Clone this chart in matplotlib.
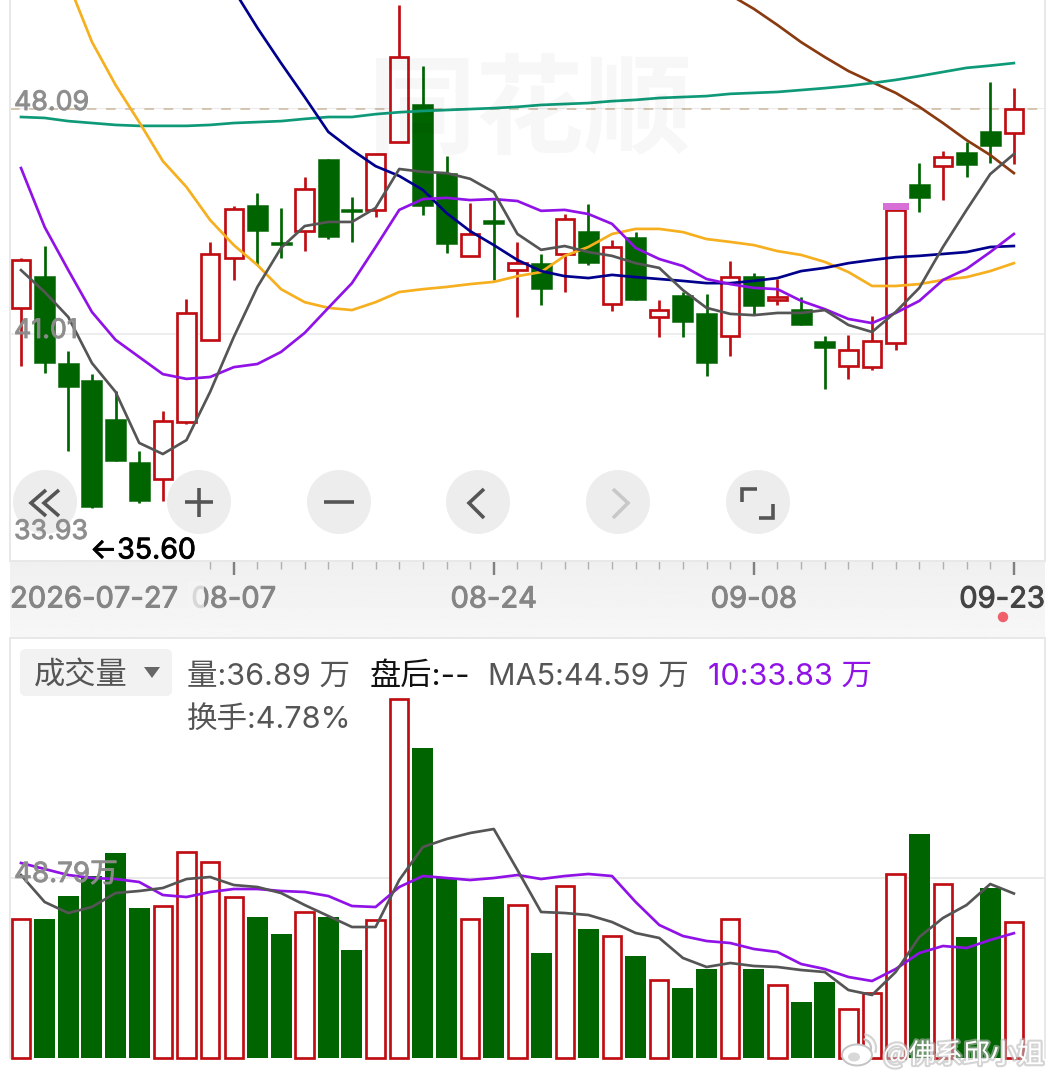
import matplotlib
matplotlib.use("Agg")
import matplotlib.pyplot as plt
import matplotlib.patheffects as pe
from matplotlib.patches import Arc, Circle, FancyBboxPatch, Polygon, Rectangle, Ellipse
from matplotlib.ticker import FixedLocator
import numpy as np

# ---------- data ----------
high = [43.39,43.77,40.46,39.73,39.20,37.31,38.57,42.10,43.90,45.03,45.44,44.97,45.95,46.52,45.32,46.67,51.37,49.45,46.61,45.13,45.22,
        43.90,43.52,44.78,45.10,43.96,44.21,42.07,42.32,42.26,43.30,42.92,42.73,42.16,40.93,40.96,41.56,45.13,46.39,46.77,47.05,48.94,48.75]
low = [39.99,39.77,37.31,35.51,36.99,35.67,35.73,38.16,40.81,42.70,43.17,43.39,43.61,43.99,43.90,44.69,47.05,44.75,43.55,43.46,42.70,
       41.53,41.91,42.32,43.17,41.72,42.07,40.90,40.90,39.67,40.30,41.59,41.91,41.28,39.26,39.58,39.86,40.49,44.84,45.22,45.95,46.39,46.36]
body_top = [43.33,42.82,40.08,39.54,38.31,36.96,38.25,41.66,43.52,44.94,45.06,43.90,45.57,46.52,44.94,46.67,49.73,48.25,46.07,44.15,44.59,
            43.23,43.23,44.62,44.24,43.74,44.06,41.75,42.23,41.66,42.79,42.82,42.16,41.78,40.77,40.49,40.77,44.91,45.73,46.58,46.74,47.40,48.09]
body_bot = [41.82,40.08,39.32,35.54,36.99,35.73,36.42,38.22,40.81,43.39,44.24,43.80,44.24,44.06,44.84,44.91,47.05,45.03,43.83,43.46,44.47,
            43.01,42.41,43.52,43.23,41.94,42.07,41.53,41.37,40.08,40.93,41.88,42.07,41.28,40.55,39.99,39.95,40.71,45.29,46.29,46.33,46.93,47.34]
is_up = [1,0,0,0,0,0,1,1,1,1,0,0,1,0,0,1,1,0,0,1,0,1,0,1,0,1,0,1,0,0,1,0,1,0,0,1,1,1,0,1,0,0,1]

ma5 = [43.01,42.32,41.53,40.08,39.17,37.56,37.21,37.65,39.17,40.90,42.48,43.71,44.40,44.53,44.53,44.97,46.20,46.11,46.07,45.89,45.47,
       44.15,43.65,43.77,43.58,43.46,43.23,43.08,42.38,41.82,41.63,41.59,41.66,41.66,41.75,41.28,41.06,41.69,42.45,43.74,44.91,46.04,46.67]
ma10 = [46.23,44.37,43.01,41.69,40.81,40.27,39.73,39.58,39.64,39.95,40.05,40.43,41.03,41.82,42.60,43.74,44.91,45.25,45.29,45.22,45.25,
        45.19,44.88,44.91,44.78,44.47,43.71,43.36,43.14,42.73,42.57,42.45,42.41,42.04,41.78,41.47,41.34,41.66,42.04,42.70,43.05,43.58,44.15]
ma20 = [52.07,50.21,48.85,47.68,46.45,45.63,44.59,43.80,43.17,42.41,42.00,41.82,41.75,42.00,42.32,42.41,42.48,42.57,42.64,
        42.82,42.95,43.46,43.74,44.15,44.31,44.31,44.21,43.99,43.90,43.80,43.61,43.49,43.27,42.95,42.51,42.51,42.57,42.70,42.79,42.98,43.23]
ma30 = [51.85,50.65,49.54,48.47,47.37,46.80,46.29,45.98,45.54,44.81,44.24,43.80,43.33,42.98,42.82,42.76,42.86,42.79,42.73,42.67,
        42.60,42.60,42.67,42.76,42.98,43.08,43.23,43.33,43.42,43.46,43.52,43.58,43.74,43.77]
ma60 = [47.84,47.81,47.71,47.65,47.59,47.56,47.56,47.56,47.59,47.65,47.68,47.71,47.78,47.84,47.84,47.93,47.99,48.03,48.06,48.09,48.12,
        48.16,48.22,48.25,48.28,48.34,48.38,48.44,48.47,48.50,48.57,48.60,48.63,48.69,48.75,48.82,48.91,49.01,49.13,49.26,49.39,49.46,49.54]
ma120 = [51.69,51.25,50.74,50.20,49.73,49.29,48.94,48.60,48.16,47.65,47.11,46.64,46.07]

volume = [37.68,37.68,43.91,49.33,55.57,40.66,41.20,55.84,53.13,43.64,38.22,33.61,39.58,38.22,29.27,37.41,97.31,84.03,48.79,37.68,43.64,
          41.47,28.46,46.62,34.97,33.07,27.65,21.14,18.97,24.12,37.68,24.12,19.79,15.18,20.60,13.28,17.62,49.88,60.72,47.16,32.80,46.08,36.89]
vol_ma5 = [49.60,42.29,39.30,40.93,44.72,45.27,46.08,48.52,49.06,46.89,46.35,44.72,41.47,38.49,35.51,35.51,48.25,57.19,59.36,60.99,62.07,
           50.96,39.58,39.30,38.76,36.86,33.88,32.53,27.11,24.67,25.75,24.94,24.67,23.85,23.31,18.43,17.08,23.31,32.80,37.95,41.47,47.16,44.59]
vol_ma10 = [52.86,51.23,49.60,48.79,48.52,47.71,44.18,43.64,45.00,45.81,45.81,45.27,45.00,43.91,41.20,40.93,46.35,49.33,48.79,48.25,48.79,
            49.60,48.52,49.33,49.88,49.33,42.29,36.05,33.07,31.71,31.17,29.55,28.73,25.48,24.12,21.96,20.87,24.12,28.46,30.36,29.82,31.99,33.83]

price_ticks = ["48.09", "41.01", "33.93"]
date_major_idx = [9, 20, 31, 42]
date_labels = ["08-07", "08-24", "09-08", "09-23"]

# ---------- style ----------
W, H = 1056, 1080
RED, GREEN = "#BF0D12", "#006400"
GRAY, PURPLE, ORANGE, NAVY, TEAL, BROWN = "#555555", "#9012E6", "#F6AF1E", "#00008C", "#0E9A78", "#8A3A10"
BORDER = "#E8E8E8"
px = 0.72
CJK = ["Noto Sans CJK SC", "DejaVu Sans"]
LAT = ["Inter", "Noto Sans CJK SC", "DejaVu Sans"]

plt.rcParams["font.family"] = CJK
fig = plt.figure(figsize=(W / 100, H / 100), dpi=100, facecolor="white")

def box(x0, y0, x1, y1):
    return [x0 / W, 1 - y1 / H, (x1 - x0) / W, (y1 - y0) / H]

XLIM = ((10 - 21) / 23.64, (1045 - 21) / 23.64)
idx = np.arange(len(high))

# band behind date labels
band = fig.add_axes(box(10, 561, 1045, 637))
grad = np.linspace(0.94, 0.968, 64).reshape(-1, 1)
band.imshow(grad, aspect="auto", cmap="gray", vmin=0, vmax=1, extent=(0, 1, 0, 1))
band.set_axis_off()

# price panel
ax = fig.add_axes(box(10, 0, 1045, 561))
ax.set_xlim(*XLIM)
ax.set_ylim(51.53 - 561 * 0.03154, 51.53)
ax.spines["top"].set_visible(False)
for s in ["left", "right", "bottom"]:
    ax.spines[s].set_color(BORDER)
    ax.spines[s].set_linewidth(2 * px)
ax.set_yticks([])
ax.xaxis.set_major_locator(FixedLocator(date_major_idx))
ax.xaxis.set_minor_locator(FixedLocator([i for i in idx if i >= 8 and i not in date_major_idx]))
ax.set_xticklabels([])
ax.tick_params(axis="x", which="major", direction="out", length=14 * px, width=2.4 * px, color="#808080")
ax.tick_params(axis="x", which="minor", direction="out", length=8 * px, width=1.4 * px, color="#B0B0B0")

ax.axhline(41.01, color="#E9E9E9", lw=1.6 * px, zorder=1)
ax.axhline(48.13, color="#EDEDED", lw=1.2 * px, zorder=1)
ax.axhline(48.09, color="#CDBBA2", lw=1.6 * px, ls=(0, (6, 6)), zorder=1)

for i in idx:
    c = RED if is_up[i] else GREEN
    ax.vlines(i, low[i], high[i], color=c, lw=2.7 * px, zorder=2)
    if is_up[i]:
        ax.add_patch(Rectangle((i - 0.39, body_bot[i]), 0.78, body_top[i] - body_bot[i],
                               facecolor="white", edgecolor=c, lw=2.7 * px, zorder=3))
    else:
        ax.add_patch(Rectangle((i - 0.445, body_bot[i]), 0.89, body_top[i] - body_bot[i],
                               facecolor=c, edgecolor=c, lw=0.5 * px, zorder=3))
# pink cap on the limit-up candle
ax.add_patch(Rectangle((37 - 0.55, body_top[37]), 1.10, high[37] - body_top[37],
                       facecolor="#D86FD6", edgecolor="none", zorder=3))

lw_ma = 2.7 * px
ax.plot(idx[-len(ma120):], ma120, color=BROWN, lw=lw_ma, zorder=4)
ax.plot(idx, ma60, color=TEAL, lw=lw_ma, zorder=4)
ax.plot(idx[-len(ma20):], ma20, color=ORANGE, lw=lw_ma, zorder=4)
ax.plot(idx[-len(ma30):], ma30, color=NAVY, lw=lw_ma, zorder=4)
ax.plot(idx, ma10, color=PURPLE, lw=lw_ma, zorder=4)
ax.plot(idx, ma5, color=GRAY, lw=lw_ma, zorder=5)

# volume panel
av = fig.add_axes(box(10, 638, 1045, 1058))
av.set_xlim(*XLIM)
av.set_ylim(0, 113.85)
av.set_xticks([])
av.set_yticks([])
av.spines["bottom"].set_visible(False)
for s in ["left", "right", "top"]:
    av.spines[s].set_color(BORDER)
    av.spines[s].set_linewidth(2 * px)
av.axhline(48.79, color="#E6E6E6", lw=1.6 * px, zorder=1)
for i in idx:
    if is_up[i]:
        av.bar(i, volume[i], width=0.78, facecolor="white", edgecolor=RED, lw=2.7 * px, zorder=2, clip_on=False)
    else:
        av.bar(i, volume[i], width=0.89, facecolor=GREEN, edgecolor="none", zorder=2)
av.plot(idx, vol_ma10, color=PURPLE, lw=2.7 * px, zorder=4)
av.plot(idx, vol_ma5, color=GRAY, lw=2.7 * px, zorder=5)

# overlay for interface pieces and labels, in picture pixels
ui = fig.add_axes([0, 0, 1, 1], zorder=10)
ui.set_xlim(0, W)
ui.set_ylim(H, 0)
ui.set_axis_off()
ui.patch.set_alpha(0)

ui.text(530, 114, "同花顺", fontsize=78, fontweight="bold", color="#000000", alpha=0.03, ha="center", va="center")

# round buttons
for cx in [45, 199, 339, 478, 618, 758]:
    ui.add_patch(Circle((cx, 502), 32, facecolor="#EDEDED", edgecolor="none", zorder=2))
ic = dict(color="#555555", lw=3.6 * px, zorder=3, solid_capstyle="butt", solid_joinstyle="miter")
ui.plot([46, 31, 46], [490, 503, 516], **ic)
ui.plot([59, 44, 59], [490, 503, 516], **ic)
ui.plot([185, 213], [502, 502], **ic)
ui.plot([199, 199], [488, 517], **ic)
ui.plot([324, 354], [502, 502], **ic)
ui.plot([484, 469, 484], [489, 503, 518], **ic)
ui.plot([613, 628, 613], [489, 503, 518], **{**ic, "color": "#C8C8C8"})
ui.plot([742, 742, 757], [502, 489, 489], **ic)
ui.plot([773, 773, 759], [504, 518, 518], **ic)

# price labels
bold = [pe.withStroke(linewidth=0.7, foreground="#8C8C8C")]
for txt, y in zip(price_ticks, [103, 331, 532]):
    ui.text(14, y, txt, fontsize=19.3, color="#8C8C8C", alpha=0.85, ha="left", va="center", family=LAT, zorder=6, path_effects=bold)
ui.text(90, 551, "←35.60", fontsize=20.5, color="#000000", ha="left", va="center", family=LAT, zorder=6,
        path_effects=[pe.withStroke(linewidth=0.6, foreground="#000000")])

# date labels
date_fx = [pe.withStroke(linewidth=0.7, foreground="#858585")]
ui.text(10, 600, "2026-07-27", fontsize=21, color="#858585", ha="left", va="center", family=LAT, path_effects=date_fx)
xpx = [21 + 23.64 * i for i in date_major_idx]
for x, lab in zip(xpx[:3], date_labels[:3]):
    ui.text(x, 600, lab, fontsize=21, color="#858585", ha="center", va="center", family=LAT, path_effects=date_fx)
ui.add_patch(Rectangle((188, 582), 16, 34, facecolor="#F5F5F5", alpha=0.75, edgecolor="none", zorder=3))
ui.text(1045, 600, date_labels[3], fontsize=21, color="#444444", ha="right", va="center", family=LAT,
        path_effects=[pe.withStroke(linewidth=0.7, foreground="#444444")])
ui.add_patch(Circle((1003, 617), 5.2, facecolor="#F0606A", edgecolor="none", zorder=4))

# volume header
ui.add_patch(FancyBboxPatch((22, 651), 148, 43, boxstyle="round,pad=2,rounding_size=6", facecolor="#F2F2F2", edgecolor="none"))
ui.text(34, 676, "成交量", fontsize=22.5, color="#555555", ha="left", va="center", family=CJK)
ui.add_patch(Polygon([[144, 667], [160, 667], [152, 678]], closed=True, facecolor="#666666", edgecolor="none"))
ui.text(187, 677, "量:36.89 万", fontsize=22, color="#555555", ha="left", va="center", family=LAT)
ui.text(370, 677, "盘后:--", fontsize=22.5, color="#111111", ha="left", va="center", family=LAT)
ui.text(488, 677, "MA5:44.59 万", fontsize=22, color="#555555", ha="left", va="center", family=LAT)
ui.text(708, 677, "10:33.83 万", fontsize=22, color=PURPLE, ha="left", va="center", family=LAT)
ui.text(187, 720, "换手:4.78%", fontsize=22, color="#555555", ha="left", va="center", family=LAT)
ui.text(14, 875, "48.79万", fontsize=20, color="#8C8C8C", alpha=0.85, ha="left", va="center", family=LAT, zorder=6, path_effects=bold)

# weibo mark
halo = [pe.withStroke(linewidth=3, foreground="#B8B8B8", alpha=0.6)]
ui.add_patch(Ellipse((857, 1055), 30, 21, facecolor="white", edgecolor="#C4C4C4", lw=1.4, zorder=7))
ui.add_patch(Ellipse((854, 1057), 12, 9, facecolor="#D8D8D8", edgecolor="none", zorder=8))
ui.add_patch(Arc((862, 1048), 18, 18, theta1=-80, theta2=20, edgecolor="#C4C4C4", lw=1.6, zorder=8))
ui.add_patch(Arc((862, 1048), 28, 28, theta1=-80, theta2=20, edgecolor="#D4D4D4", lw=1.6, zorder=8))
ui.text(883, 1055, "@佛系邱小姐", fontsize=19.5, color="white", ha="left", va="center", family=CJK, zorder=8, path_effects=halo)

fig.savefig("out.png", dpi=100)
